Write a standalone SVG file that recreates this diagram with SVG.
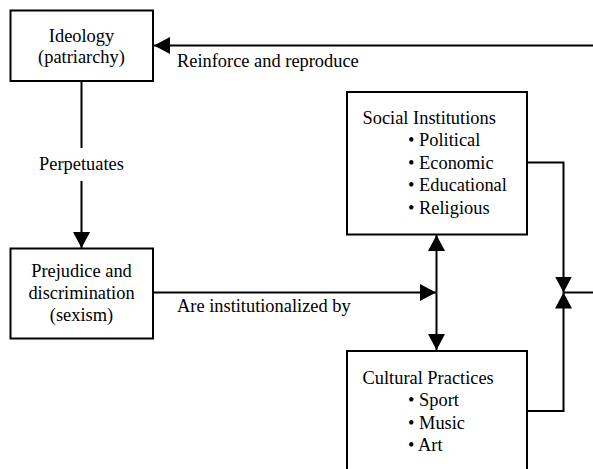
<svg xmlns="http://www.w3.org/2000/svg" width="593" height="469" viewBox="0 0 593 469">
<style>
.box{fill:#fff;stroke:#000;stroke-width:2}
.ln{fill:none;stroke:#000;stroke-width:2}
.c{text-anchor:middle}
</style>
<defs>
<marker id="ah" viewBox="0 0 16 17" refX="16" refY="8.5" markerWidth="16" markerHeight="17" markerUnits="userSpaceOnUse" orient="auto">
<path d="M0,0 L16,8.5 L0,17 Z" fill="#000"/>
</marker>
</defs>
<rect width="593" height="469" fill="#fff"/>
<g font-family="'Liberation Serif', 'Times New Roman', 'DejaVu Serif', serif" font-size="18.4" fill="#000">
<g id="connectors">
<path class="ln" d="M593,45.5 L154,45.5" marker-end="url(#ah)"/>
<path class="ln" d="M81.5,81 L81.5,148"/>
<path class="ln" d="M81.5,181 L81.5,248" marker-end="url(#ah)"/>
<path class="ln" d="M153,292.5 L436,292.5" marker-end="url(#ah)"/>
<path class="ln" d="M436.5,292.5 L436.5,235" marker-end="url(#ah)"/>
<path class="ln" d="M436.5,292.5 L436.5,350" marker-end="url(#ah)"/>
<path class="ln" d="M527,162.5 L563.5,162.5 L563.5,292.5" marker-end="url(#ah)"/>
<path class="ln" d="M527,411 L563.5,411 L563.5,292.5" marker-end="url(#ah)"/>
<path class="ln" d="M563.5,292.5 L593,292.5"/>
<text x="177" y="67">Reinforce and reproduce</text>
<text x="81.5" y="170" class="c">Perpetuates</text>
<text x="177" y="311.5">Are institutionalized by</text>
</g>
<g id="ideology">
<rect class="box" x="10.5" y="10.5" width="142.5" height="70.5"/>
<text x="81.5" y="42" class="c">Ideology</text>
<text x="81.5" y="63" class="c">(patriarchy)</text>
</g>
<g id="prejudice">
<rect class="box" x="10.5" y="248.5" width="142.5" height="90"/>
<text x="81.5" y="277" class="c">Prejudice and</text>
<text x="81.5" y="298.5" class="c">discrimination</text>
<text x="81.5" y="320.5" class="c">(sexism)</text>
</g>
<g id="social-institutions">
<rect class="box" x="347" y="92" width="180" height="142.5"/>
<text x="362.5" y="123.5">Social Institutions</text>
<text x="408" y="146">• Political</text>
<text x="408" y="168.5">• Economic</text>
<text x="408" y="191">• Educational</text>
<text x="408" y="213.5">• Religious</text>
</g>
<g id="cultural-practices">
<rect class="box" x="347" y="351" width="180" height="140"/>
<text x="362.5" y="383.5">Cultural Practices</text>
<text x="408" y="406">• Sport</text>
<text x="408" y="428.5">• Music</text>
<text x="408" y="451">• Art</text>
</g>
</g>
</svg>
